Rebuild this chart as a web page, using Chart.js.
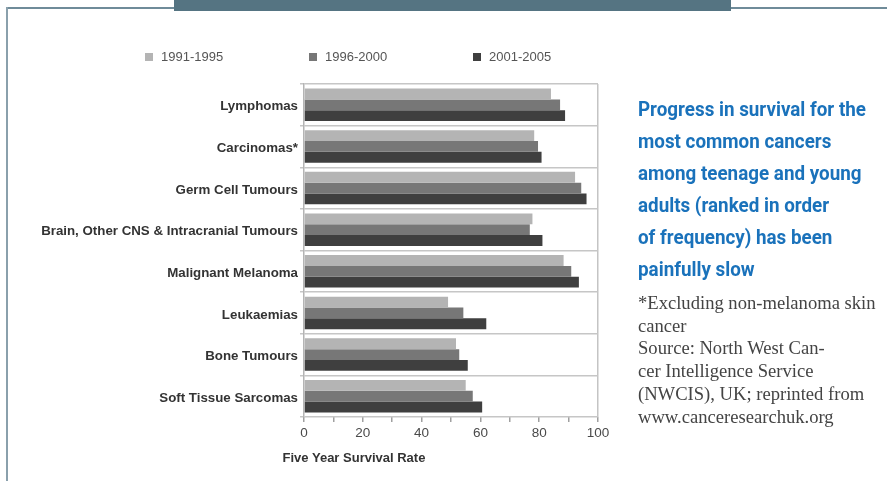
<!DOCTYPE html>
<html>
<head>
<meta charset="utf-8">
<script src="https://cdn.jsdelivr.net/npm/chart.js@4.4.1/dist/chart.umd.min.js"></script>
<style>
  html, body { margin: 0; padding: 0; background: #ffffff; }
  #wrap { position: relative; width: 887px; height: 481px; overflow: hidden; background: #fff; }
  #c { position: absolute; left: 0; top: 0; }
  .frameTop { position: absolute; left: 6px; top: 7px; width: 881px; height: 2px; background: #6f8b99; }
  .frameLeft { position: absolute; left: 6px; top: 7px; width: 2px; height: 474px; background: #8aa0ac; }
  .banner { position: absolute; left: 174px; top: 0px; width: 557px; height: 11px; background: #557482; }
  .leg { position: absolute; top: 49px; font: 13px "Liberation Sans", Arial, sans-serif; color: #555; line-height: 16px; white-space: nowrap; }
  .leg i { position: absolute; left: 0; top: 4px; width: 8px; height: 8px; }
  .leg span { position: absolute; left: 16px; top: 0; }
  .xtitle { position: absolute; left: 254px; width: 200px; top: 450px; text-align: center; font: bold 13px "Liberation Sans", Arial, sans-serif; color: #333; }
  .head { position: absolute; left: 638px; top: 93px; font-family: Roboto, "Liberation Sans", sans-serif; font-weight: bold; font-size: 20px; line-height: 32px; color: #1a72bb; white-space: nowrap; transform-origin: 0 0; }
  .head div { display: block; }
  .head span { display: inline-block; }
  .note { position: absolute; left: 638px; top: 292px; font-family: "Liberation Serif", "DejaVu Serif", serif; font-size: 18.6px; line-height: 22.7px; color: #444; white-space: nowrap; }
</style>
</head>
<body>
<div id="wrap">
  <div class="frameTop"></div>
  <div class="frameLeft"></div>
  <div class="banner"></div>
  <canvas id="c" width="887" height="481"></canvas>
  <div id="legend"></div>
  <div class="xtitle">Five Year Survival Rate</div>
  <div class="head" id="head"><div><span id="h1">Progress in survival for the</span></div><div>most common cancers</div><div>among teenage and young</div><div>adults (ranked in order</div><div>of frequency) has been</div><div>painfully slow</div></div>
  <div class="note">*Excluding non-melanoma skin<br>cancer<br>Source: North West Can-<br>cer Intelligence Service<br>(NWCIS), UK; reprinted from<br>www.canceresearchuk.org</div>
</div>
<script>
const categories = [
  "Lymphomas",
  "Carcinomas*",
  "Germ Cell Tumours",
  "Brain, Other CNS & Intracranial Tumours",
  "Malignant Melanoma",
  "Leukaemias",
  "Bone Tumours",
  "Soft Tissue Sarcomas"
];
const seriesNames = ["1991-1995", "1996-2000", "2001-2005"];
const values1991 = [84, 78.3, 92.2, 77.7, 88.3, 49, 51.7, 55];
const values1996 = [87.1, 79.6, 94.3, 76.8, 90.9, 54.2, 52.8, 57.4];
const values2001 = [88.8, 80.8, 96.1, 81.1, 93.5, 62, 55.7, 60.6];
const xTickLabels = [0, 20, 40, 60, 80, 100];

const colors = ["#b4b4b4", "#777777", "#3f3f3f"];
const seriesValues = [values1991, values1996, values2001];

// headline: condense horizontally to match the narrow original typeface
const h1 = document.getElementById('h1');
const w = h1.getBoundingClientRect().width;
if (w > 0) document.getElementById('head').style.transform = 'scaleX(' + (228 / w) + ')';

// legend (HTML)
const legendX = [145, 309, 473];
const legend = document.getElementById('legend');
seriesNames.forEach((n, i) => {
  const d = document.createElement('div');
  d.className = 'leg';
  d.style.left = legendX[i] + 'px';
  d.innerHTML = '<i style="background:' + colors[i] + '"></i><span>' + n + '</span>';
  legend.appendChild(d);
});

new Chart(document.getElementById('c'), {
  type: 'bar',
  data: {
    labels: categories,
    datasets: seriesNames.map((n, i) => ({
      label: n,
      data: seriesValues[i],
      backgroundColor: colors[i],
      borderWidth: 0,
      categoryPercentage: 0.78,
      barPercentage: 1.0
    }))
  },
  options: {
    indexAxis: 'y',
    responsive: false,
    animation: false,
    devicePixelRatio: 1,
    layout: { padding: { top: 84, right: 289, bottom: 0, left: 0 } },
    plugins: { legend: { display: false }, tooltip: { enabled: false } },
    scales: {
      x: {
        min: 0, max: 100,
        afterFit: s => { s.height = 64; },
        ticks: {
          stepSize: 10,
          autoSkip: false,
          maxRotation: 0,
          padding: 3,
          color: '#4a4a4a',
          font: { family: 'Liberation Sans', size: 13.5 },
          callback: v => (xTickLabels.includes(v) ? String(v) : '')
        },
        grid: {
          drawOnChartArea: true,
          color: ctx => (ctx.tick && ctx.tick.value === 100 ? '#c4c4c4' : 'rgba(0,0,0,0)'),
          tickColor: '#a0a0a0',
          tickLength: 5,
          lineWidth: 1.5
        },
        border: { display: false }
      },
      y: {
        afterFit: s => { s.width = 304; },
        ticks: {
          padding: 2,
          labelOffset: 2,
          color: '#333',
          font: { family: 'Liberation Sans', size: 13.3, weight: 'bold' }
        },
        grid: {
          color: '#c6c6c6',
          lineWidth: 1.5,
          tickLength: 4,
          offset: true
        },
        border: { display: true, color: '#b4b4b4', width: 1.5 }
      }
    }
  }
});
</script>
</body>
</html>
